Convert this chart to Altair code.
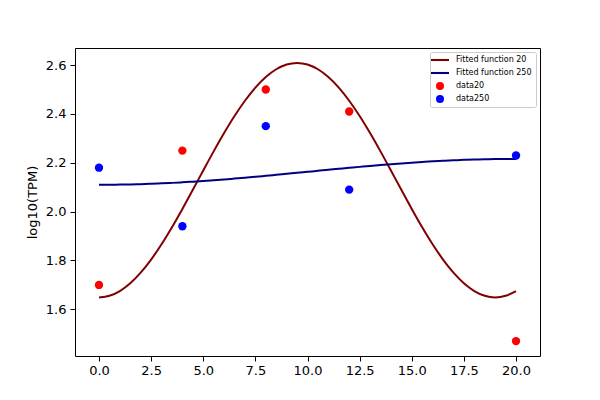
import altair as alt
import pandas as pd

# ---- data ----
curve_x = [0.0, 0.5, 1.0, 1.5, 2.0, 2.5, 3.0, 3.5, 4.0, 4.5, 5.0, 5.5, 6.0, 6.5,
           7.0, 7.5, 8.0, 8.5, 9.0, 9.5, 10.0, 10.5, 11.0, 11.5, 12.0, 12.5,
           13.0, 13.5, 14.0, 14.5, 15.0, 15.5, 16.0, 16.5, 17.0, 17.5, 18.0,
           18.5, 19.0, 19.5, 20.0]
fit20 = [1.6490, 1.6555, 1.6750, 1.7068, 1.7502, 1.8039, 1.8665, 1.9362, 2.0112,
         2.0894, 2.1686, 2.2468, 2.3218, 2.3915, 2.4541, 2.5078, 2.5512, 2.5830,
         2.6025, 2.6090, 2.6025, 2.5830, 2.5512, 2.5078, 2.4541, 2.3915, 2.3218,
         2.2468, 2.1686, 2.0894, 2.0112, 1.9362, 1.8665, 1.8039, 1.7502, 1.7068,
         1.6750, 1.6555, 1.6490, 1.6555, 1.6750]
fit250 = [2.1100, 2.1102, 2.1107, 2.1115, 2.1126, 2.1140, 2.1158, 2.1178, 2.1201,
          2.1227, 2.1255, 2.1286, 2.1318, 2.1353, 2.1389, 2.1427, 2.1466, 2.1506,
          2.1547, 2.1588, 2.1630, 2.1672, 2.1713, 2.1754, 2.1794, 2.1833, 2.1871,
          2.1907, 2.1942, 2.1974, 2.2005, 2.2033, 2.2059, 2.2082, 2.2102, 2.2120,
          2.2134, 2.2145, 2.2153, 2.2158, 2.2160]
sample_x = [0, 4, 8, 12, 20]
data20 = [1.70, 2.25, 2.50, 2.41, 1.47]
data250 = [2.18, 1.94, 2.35, 2.09, 2.23]

series_names = ["Fitted function 20", "Fitted function 250", "data20", "data250"]
series_colors = ["#800000", "#000080", "#ff0000", "#0000ff"]
x_ticks = [0, 2.5, 5, 7.5, 10, 12.5, 15, 17.5, 20]
y_ticks = [1.6, 1.8, 2.0, 2.2, 2.4, 2.6]
y_title = "log10(TPM)"

# ---- tables ----
lines_df = pd.concat([
    pd.DataFrame({"x": curve_x, "y": fit20, "series": series_names[0]}),
    pd.DataFrame({"x": curve_x, "y": fit250, "series": series_names[1]}),
])
points_df = pd.concat([
    pd.DataFrame({"x": sample_x, "y": data20, "series": series_names[2]}),
    pd.DataFrame({"x": sample_x, "y": data250, "series": series_names[3]}),
])

FONT = "DejaVu Sans"
LINE_SYMBOL = "M-2.25,-0.26H2.25V0.26H-2.25Z"

x_enc = alt.X("x:Q", scale=alt.Scale(domain=[-1.15, 21.15], nice=False, zero=False),
              axis=alt.Axis(values=x_ticks, format=".1f", title=None, grid=False,
                            domain=False, tickColor="black", tickSize=5,
                            labelPadding=3, labelColor="black", labelFont=FONT,
                            labelFontSize=13))
y_enc = alt.Y("y:Q", scale=alt.Scale(domain=[1.409, 2.670], nice=False, zero=False),
              axis=alt.Axis(values=y_ticks, format=".1f", title=y_title, grid=False,
                            domain=False, tickColor="black", tickSize=5,
                            labelPadding=4, labelColor="black", labelFont=FONT,
                            labelFontSize=13, titleFont=FONT, titleFontSize=13,
                            titleFontWeight="normal", titleColor="black",
                            titlePadding=6))

lines = alt.Chart(lines_df).mark_line(strokeWidth=2, interpolate="monotone").encode(
    x=x_enc, y=y_enc,
    stroke=alt.Stroke("series:N", scale=alt.Scale(domain=series_names[:2],
                                                  range=series_colors[:2]),
                      legend=None),
    detail="series:N",
)

legend = alt.Legend(title=None, orient="top-right", offset=4, padding=4,
                    strokeColor="#cccccc", fillColor="rgba(255,255,255,0.8)",
                    cornerRadius=2, symbolSize=64, symbolOffset=2, labelOffset=12,
                    rowPadding=5, labelFontSize=8, labelFont=FONT,
                    labelColor="black", symbolStrokeWidth=0, symbolOpacity=1)

points = alt.Chart(points_df).mark_point(filled=True, size=70, opacity=1).encode(
    x=x_enc, y=y_enc,
    color=alt.Color("series:N", scale=alt.Scale(domain=series_names,
                                                range=series_colors),
                    legend=legend),
    shape=alt.Shape("series:N", scale=alt.Scale(domain=series_names,
                                                range=[LINE_SYMBOL, LINE_SYMBOL,
                                                       "circle", "circle"]),
                    legend=legend),
)

chart = alt.layer(lines, points).properties(
    width=465, height=308,
    autosize=alt.AutoSizeParams(type="none"),
    padding={"left": 67, "top": 40, "right": 52, "bottom": 36},
).configure_view(stroke="black", strokeWidth=1).configure_legend(strokeWidth=1)

chart.save("out.html", embed_options={"renderer": "svg", "actions": False})
